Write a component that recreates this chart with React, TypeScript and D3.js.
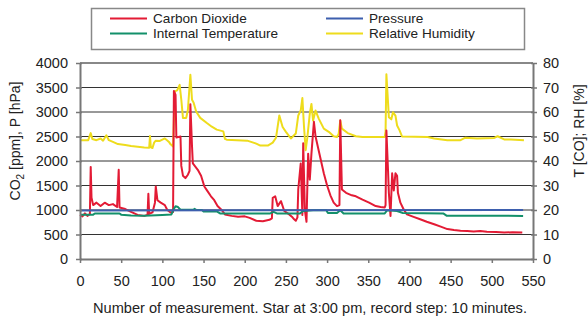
import { useRef, useEffect } from "react";
import * as d3 from "d3";

const co2 = [
  [0, 900], [3, 870], [6, 930], [9, 880], [12, 920], [13, 1880], [14, 1250], [16, 1100],
  [20, 1150], [25, 1080], [30, 1150], [35, 1100], [40, 1120], [45, 1060], [47, 1820],
  [48, 1050], [55, 1020], [62, 960], [70, 900], [78, 880], [82, 900], [83, 1330], [84, 920],
  [88, 950], [91, 1150], [92, 1480], [94, 1200], [98, 1150], [103, 1100], [106, 1000],
  [110, 950], [113, 960], [114, 3430], [116, 3350], [117, 2480], [122, 2500], [123, 1900],
  [125, 1700], [128, 1650], [131, 1720], [133, 1800], [134, 3160], [136, 2300], [137, 1950],
  [143, 1820], [147, 1700], [151, 1480], [155, 1380], [159, 1280], [163, 1200], [167, 1080],
  [172, 1000], [176, 910], [184, 880], [192, 860], [200, 870], [206, 840], [214, 780],
  [222, 770], [230, 800], [233, 830], [234, 1250], [237, 1280], [240, 1080], [244, 1180],
  [248, 980], [254, 910], [258, 850], [260, 810], [262, 780], [264, 850], [265, 1420],
  [268, 1950], [270, 900], [271, 2360], [273, 1000], [275, 760], [277, 2150], [279, 1620],
  [281, 2150], [284, 2800], [286, 2500], [290, 2200], [296, 1750], [300, 1500], [304, 1300],
  [308, 1150], [312, 1080], [315, 1100], [316, 2830], [318, 1420], [323, 1350], [330, 1300],
  [335, 1280], [343, 1210], [351, 1150], [359, 1080], [365, 1060], [370, 1050], [371, 1100],
  [372, 2620], [374, 1800], [375, 1350], [377, 880], [379, 1750], [381, 1400], [383, 1750],
  [385, 1700], [386, 1350], [389, 1150], [393, 1010], [397, 910], [405, 860], [413, 810],
  [421, 760], [430, 710], [438, 660], [446, 610], [454, 590], [462, 575], [470, 570],
  [478, 560], [486, 570], [494, 555], [505, 550], [515, 540], [525, 545], [537, 540],
];

const pressure = [
  [0, 992], [200, 995], [538, 1000],
];

const temperature = [
  [0, 18.1], [16, 18.1], [18, 18.6], [48, 18.6], [50, 18.1], [62, 17.8], [78, 17.7],
  [100, 18.0], [111, 18.2], [114, 20.5], [116, 21.5], [119, 21.2], [122, 20.1], [138, 20.1],
  [139, 20.5], [141, 20.1], [148, 20.0], [150, 19.4], [166, 19.4], [170, 18.6], [231, 18.6],
  [235, 19.2], [239, 18.6], [267, 18.6], [271, 19.6], [283, 19.9], [299, 19.9], [301, 18.8],
  [312, 18.8], [316, 19.9], [320, 18.6], [370, 18.6], [373, 19.9], [385, 19.6], [392, 18.8],
  [441, 18.6], [445, 17.7], [538, 17.6],
];

const humidity = [
  [0, 48.5], [10, 48.5], [13, 51.4], [15, 49], [20, 48.5], [25, 49.2], [28, 48.3], [32, 50.5],
  [35, 48.5], [40, 47.8], [46, 46.9], [55, 46.5], [62, 46.1], [70, 45.8], [78, 45.5],
  [84, 45.4], [85, 50.2], [86, 45.6], [88, 45.3], [90, 47.5], [92, 48.3], [97, 48.2],
  [103, 49.2], [106, 48.4], [108, 47.8], [110, 46.8], [113, 45.9], [115, 68.4], [118, 68.8],
  [121, 71.1], [123, 65], [125, 57.6], [129, 57.6], [131, 60.9], [134, 75.2], [136, 65],
  [138, 63.8], [141, 60.2], [146, 57.6], [154, 55.5], [160, 54], [166, 52.8], [174, 52.1],
  [176, 49], [178, 48.7], [203, 48.3], [214, 47.1], [219, 46.3], [228, 46.3], [234, 47.5],
  [238, 49.5], [242, 58.6], [246, 53.9], [250, 51.9], [256, 49.2], [262, 51.2], [265, 58.6],
  [268, 60.6], [270, 65.7], [272, 53.9], [274, 44.4], [276, 49.5], [279, 59.3], [281, 63.3],
  [283, 56.5], [286, 60.6], [290, 57.2], [296, 53.2], [302, 51.9], [308, 50.1], [312, 49.8],
  [314, 51], [316, 56.5], [318, 53.2], [325, 51.4], [335, 50.1], [343, 49.8], [370, 49.8],
  [371, 52], [372, 75.4], [375, 57.9], [378, 57], [380, 59.9], [383, 58.5], [385, 54.5],
  [388, 52.5], [391, 50], [422, 49.8], [430, 49.2], [446, 48.5], [462, 48.5], [468, 49.5],
  [482, 49.2], [503, 49.4], [507, 50.1], [515, 48.8], [523, 48.8], [539, 48.5],
];

const xTicks = d3.range(0, 551, 50);
const leftTicks = d3.range(0, 4001, 500);
const rightTicks = d3.range(0, 81, 10);

const legendItems = [
  { label: "Carbon Dioxide", color: "#e31b35" },
  { label: "Internal Temperature", color: "#13906a" },
  { label: "Pressure", color: "#3d5fae" },
  { label: "Relative Humidity", color: "#eedc1c" },
];

export default function App() {
  const svgRef = useRef(null);

  useEffect(() => {
    const margin = { top: 63, right: 55, bottom: 63, left: 80 },
      width = 588 - margin.left - margin.right,
      height = 322 - margin.top - margin.bottom;
    const font = "'Liberation Sans', Arial, sans-serif";
    const ink = "#222";

    const x = d3.scaleLinear().domain([0, 550]).range([0, width]);
    const yLeft = d3.scaleLinear().domain([0, 4000]).range([height, 0]);
    const yRight = d3.scaleLinear().domain([0, 80]).range([height, 0]);

    const root = d3.select(svgRef.current)
      .attr("width", 588)
      .attr("height", 322)
      .style("font-family", font);

    const svg = root.append("g")
      .attr("transform", `translate(${margin.left},${margin.top})`);

    // grid
    svg.append("g")
      .selectAll("line")
      .data(leftTicks.slice(1))
      .join("line")
      .attr("x1", 0)
      .attr("x2", width)
      .attr("y1", (d) => yLeft(d))
      .attr("y2", (d) => yLeft(d))
      .attr("stroke", (d) => (d === 4000 ? "#888" : "#333"))
      .attr("stroke-width", (d) => (d === 4000 ? 2 : 1));

    // lines
    const lineL = d3.line().x((d) => x(d[0])).y((d) => yLeft(d[1]));
    const lineR = d3.line().x((d) => x(d[0])).y((d) => yRight(d[1]));

    const series = [
      { data: humidity, gen: lineR, color: legendItems[3].color },
      { data: co2, gen: lineL, color: legendItems[0].color },
      { data: temperature, gen: lineR, color: legendItems[1].color },
      { data: pressure, gen: lineL, color: legendItems[2].color },
    ];
    series.forEach((s) => {
      svg.append("path")
        .datum(s.data)
        .attr("fill", "none")
        .attr("stroke", s.color)
        .attr("stroke-width", 2)
        .attr("stroke-linejoin", "round")
        .attr("d", s.gen);
    });

    // axes
    const styleAxis = (g) => {
      g.select(".domain").attr("stroke", "#777").attr("stroke-width", 2);
      g.selectAll(".tick line").attr("stroke", "#777").attr("stroke-width", 1.5);
      g.selectAll(".tick text")
        .attr("fill", ink)
        .style("font-size", "14.5px")
        .style("font-family", font);
    };

    svg.append("g")
      .attr("transform", `translate(0,${height})`)
      .call(d3.axisBottom(x).tickValues(xTicks).tickFormat(d3.format("d"))
        .tickSize(4).tickSizeOuter(0).tickPadding(13))
      .call(styleAxis);

    svg.append("g")
      .call(d3.axisLeft(yLeft).tickValues(leftTicks).tickFormat(d3.format("d"))
        .tickSize(4).tickSizeOuter(0).tickPadding(8))
      .call(styleAxis)
      .call((g) => g.selectAll(".tick line").attr("x2", -4).attr("x1", 2));

    svg.append("g")
      .attr("transform", `translate(${width},0)`)
      .call(d3.axisRight(yRight).tickValues(rightTicks).tickFormat(d3.format("d"))
        .tickSize(4).tickSizeOuter(0).tickPadding(6))
      .call(styleAxis)
      .call((g) => g.selectAll(".tick line").attr("x2", 4).attr("x1", -2));

    // axis titles
    const leftTitle = root.append("text")
      .attr("transform", "translate(20,141) rotate(-90)")
      .attr("text-anchor", "middle")
      .attr("fill", ink)
      .style("font-size", "14px");
    leftTitle.append("tspan").text("CO");
    leftTitle.append("tspan").attr("dy", 4).style("font-size", "10px").text("2");
    leftTitle.append("tspan").attr("dy", -4).text(" [ppm], P [hPa]");

    root.append("text")
      .attr("transform", "translate(584,131) rotate(-90)")
      .attr("text-anchor", "middle")
      .attr("fill", ink)
      .style("font-size", "14px")
      .text("T [CO]; RH [%]");

    root.append("text")
      .attr("x", 310)
      .attr("y", 313)
      .attr("text-anchor", "middle")
      .attr("fill", ink)
      .style("font-size", "14.6px")
      .text("Number of measurement. Star at 3:00 pm, record step: 10 minutes.");

    // legend
    const legend = root.append("g");
    legend.append("rect")
      .attr("x", 91.5)
      .attr("y", 8.5)
      .attr("width", 433)
      .attr("height", 41)
      .attr("fill", "#fff")
      .attr("stroke", "#888")
      .attr("stroke-width", 1.5);

    const item = legend.selectAll("g.item")
      .data(legendItems)
      .join("g")
      .attr("class", "item")
      .attr("transform", (d, i) => `translate(${i < 2 ? 110 : 326},${i % 2 === 0 ? 18.5 : 33.5})`);
    item.append("line")
      .attr("x1", 0)
      .attr("x2", 37)
      .attr("stroke", (d) => d.color)
      .attr("stroke-width", 2);
    item.append("text")
      .attr("x", 43)
      .attr("dy", "0.35em")
      .attr("fill", ink)
      .style("font-size", "13.6px")
      .text((d) => d.label);

    return () => {
      d3.select(svgRef.current).selectAll("*").remove();
    };
  }, []);

  return (
    <div>
      <svg ref={svgRef} style={{ position: "absolute", left: 0, top: 0 }}></svg>
    </div>
  );
}
